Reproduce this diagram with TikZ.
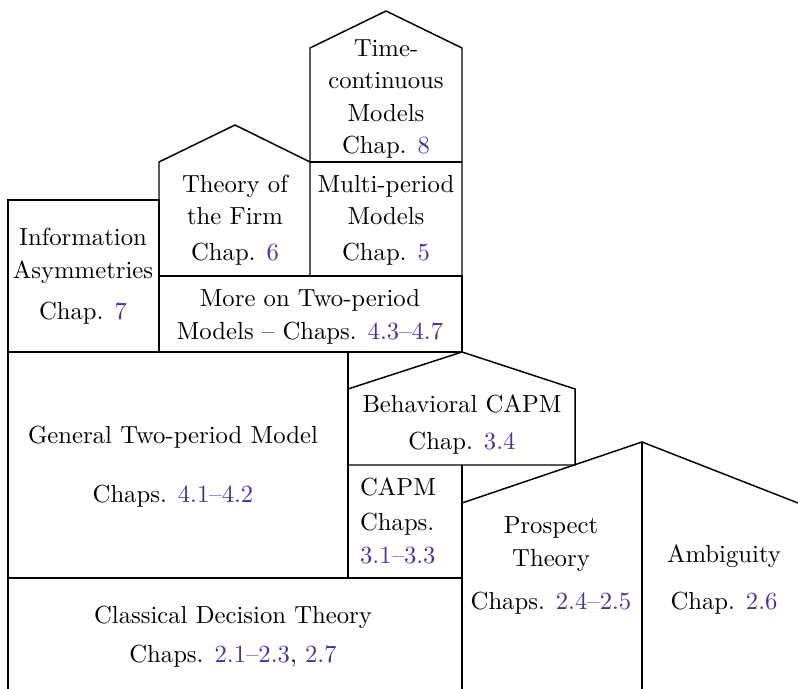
\documentclass[tikz,border=0pt]{standalone}
\usepackage{fontspec}
\definecolor{linkc}{RGB}{66,50,168}
\newcommand{\chr}[1]{\textcolor{linkc}{#1}}
\begin{document}
\begin{tikzpicture}[x=0.405pt,y=-0.405pt,
  wall/.style={draw=black,line width=0.6pt,line join=miter},
  lbl/.style={anchor=base,align=center,inner sep=0pt,font=\fontsize{10}{13.2}\selectfont}]
\useasboundingbox (0,0) rectangle (798,689);
\clip (0,0) rectangle (798,689);
% shapes
\draw[wall] (8,200) rectangle (159,352);
\draw[wall] (159,276) -- (159,162) -- (235,125) -- (310,162) -- (310,276);
\draw[wall] (310,162) -- (310,48) -- (386,11) -- (462,48) -- (462,276);
\draw[wall] (310,162) -- (462,162);
\draw[wall] (159,276) -- (462,276) -- (462,352);
\draw[wall] (8,352) -- (462,352);
\draw[wall] (8,352) -- (8,689);
\draw[wall] (348,352) -- (348,578);
\draw[wall] (348,465) -- (348,389) -- (462,352) -- (575,389) -- (575,465) -- cycle;
\draw[wall] (8,578) -- (462,578);
\draw[wall] (462,465) -- (462,689);
\draw[wall] (462,503) -- (642,442) -- (798,503);
\draw[wall] (642,442) -- (642,689);
% texts (anchor = baseline of last line)
\node[lbl] (tc) at (386,154) {Time-\\continuous\\Models\\Chap. \chr{8}};
\node[lbl] (tf) at (235,260) {Theory of\\the Firm\\[1pt]Chap. \chr{6}};
\node[lbl] (mp) at (386,260) {Multi-period\\Models\\[1pt]Chap. \chr{5}};
\node[lbl] (ia) at (83,319) {Information\\Asymmetries\\[3.3pt]Chap. \chr{7}};
\node[lbl] (mo) at (310,339) {More on Two-period\\Models -- Chaps. \chr{4.3--4.7}};
\node[lbl] (gt) at (173,502) {General Two-period Model\\[10.6pt]Chaps. \chr{4.1--4.2}};
\node[lbl] (bc) at (462,449) {Behavioral CAPM\\[1.4pt]Chap. \chr{3.4}};
\node[lbl,align=left] (ca) at (398,563) {CAPM\\[0.8pt]Chaps.\\\chr{3.1--3.3}};
\node[lbl] (cd) at (233,662) {Classical Decision Theory\\[2.5pt]Chaps. \chr{2.1--2.3}, \chr{2.7}};
\node[lbl] (pt) at (551,609) {Prospect\\Theory\\[4pt]Chaps. \chr{2.4--2.5}};
\node[lbl] (am) at (724,609) {Ambiguity\\[5.5pt]Chap. \chr{2.6}};
\end{tikzpicture}
\end{document}
